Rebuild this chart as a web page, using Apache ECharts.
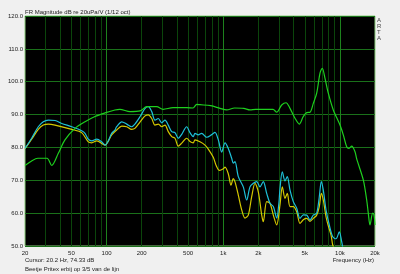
<!DOCTYPE html>
<html><head><meta charset="utf-8">
<script src="https://cdn.jsdelivr.net/npm/echarts@6/dist/echarts.min.js"></script>
<style>html,body{margin:0;padding:0;background:#f0f0f0}#c{width:400px;height:274px}</style>
</head><body><div id="c"></div>
<script>
// grid frequencies (vertical lines) and labelled ticks
const xMinorFreqs = [30,40,50,60,70,80,90,200,300,400,500,600,700,800,900,2000,3000,4000,5000,6000,7000,8000,9000];
const xDecadeFreqs = [100,1000,10000];
const xTickLabels = [20,50,100,200,500,1000,2000,5000,10000,20000];
const yTicks = [50,60,70,80,90,100,110,120];

// green curve
const greenFreq = [20,22.8,25.8,30.9,33.9,38.6,44,53.7,65.4,79.6,97,118,130,159,194,221,269,305,371,486,551,593,632,780,939,1071,1250,1500,1696,1900,2300,2672,2874,3172,3454,3737,4124,4488,4858,5196,5546,5918,6328,6756,7068,7456,7958,8782,10024,10700,11440,11968,12624,13476,13936,15872,16976,17520,18114,19110,19604,20000];
const greenDb   = [74.5,75.9,76.7,76.7,74.5,78.2,82.3,85.8,87.8,89.4,90.5,91.4,91.6,90.9,91.1,92.4,92.4,91.6,92.1,92.1,92.0,93.1,93.0,92.7,91.9,91.4,92.0,91.9,91.4,91.6,91.6,91.6,90.7,92.9,93.6,91.9,88.9,87.1,89.4,90.6,90.7,93.4,96.5,102.6,104.1,101.0,96.5,91.4,86.8,83.8,80.2,79.7,80.4,78.7,76.5,70.1,64.0,60.0,56.4,60.0,59.5,56.4];

// cyan curve
const cyanFreq = [20,22.8,26,28.7,31.7,36.2,41.3,50.3,61.2,65.4,69.8,74.6,82.4,90.9,97,103.5,110.7,118,122,135,149,164,175,194,214,228,244,260,278,297,317,338,362,386,412,441,486,519,554,573,611,654,722,797,850,908,971,1036,1105,1182,1220,1262,1347,1486,1589,1696,1811,1936,2066,2206,2359,2518,2688,2874,3000,3066,3210,3386,3542,3737,3988,4266,4550,4858,5196,5546,5918,6328,6662,6930,7210,7604,8116,8680,9264,9882,10364,10570];
const cyanDb   = [79.7,82.8,86.3,87.8,88.3,88.2,87.3,86.3,85.1,84.3,82.5,82.0,82.5,81.7,80.7,82.0,84.3,85.3,86.3,87.8,87.1,86.3,87.1,89.4,91.9,92.4,90.9,88.3,88.8,87.5,88.3,86.8,84.8,84.5,82.8,84.0,86.3,84.5,83.3,84.3,83.8,84.3,83.1,83.9,84.6,82.3,78.6,81.4,79.7,76.7,75.2,75.7,71.1,68.0,64.0,68.0,69.1,69.6,68.0,69.6,66.0,63.0,62.0,58.5,63.0,67.5,72.6,69.8,71.1,67.0,63.5,61.5,58.4,59.5,59.4,57.9,59.4,60.0,65.0,69.6,67.0,61.0,56.4,52.8,52.2,54.3,51.3,49.5];

// yellow curve
const yellowFreq = [20,22.8,26,28.7,31.7,36.2,50.3,61.2,69.8,74.6,82.4,97,110.7,122,135,149,164,175,194,214,228,244,260,278,297,317,338,362,386,412,441,486,519,554,573,632,698,745,822,870,930,1002,1036,1105,1166,1220,1262,1347,1440,1537,1640,1754,1872,1999,2138,2206,2359,2518,2688,2874,3066,3210,3386,3542,3737,3988,4266,4550,4858,5196,5546,5918,6328,6662,6930,7210,7604,7900,8400,8680,9000];
const yellowDb   = [79.6,82.5,85.5,86.8,87.1,86.8,85.5,84.5,81.7,81.4,82.0,80.7,83.8,85.3,86.5,86.3,85.5,85.8,87.8,89.6,89.9,88.8,86.8,87.1,86.3,86.8,84.8,83.3,82.8,80.4,81.3,82.8,81.8,81.4,82.3,81.7,80.7,79.5,77.0,74.5,73.0,73.5,74.0,72.0,68.5,70.5,69.5,65.5,61.0,58.5,59.4,65.0,69.1,66.5,59.4,57.4,63.5,63.0,59.4,56.4,62.5,68.0,64.5,66.0,62.0,62.0,60.4,56.9,58.0,58.4,57.5,58.4,59.4,62.0,66.0,64.0,58.9,56.5,53.3,50.3,49.0];

function pairs(f, d) { return f.map((v, i) => [v, d[i]]); }

const FONT = '"Liberation Sans", Arial, sans-serif';
const TXT = '#222';
const MINOR = '#0b450b', MAJOR = '#1d821d';

const vLines = xMinorFreqs.map(f => ({xAxis: f, lineStyle: {color: MINOR}}))
  .concat(xDecadeFreqs.map(f => ({xAxis: f, lineStyle: {color: MAJOR}})));

const chart = echarts.init(document.getElementById('c'), null, {renderer: 'canvas'});
chart.setOption({
  animation: false,
  backgroundColor: '#f0f0f0',
  grid: {left: 25, top: 16, right: 25, bottom: 28, show: true, backgroundColor: '#000000', borderColor: '#8ccc7c', borderWidth: 1},
  xAxis: {
    type: 'log', logBase: 10, min: 20, max: 20000,
    axisLine: {show: false},
    axisTick: {show: false},
    axisLabel: {customValues: xTickLabels, fontSize: 6, color: TXT, fontFamily: FONT, margin: 4,
      formatter: v => v >= 1000 ? (v / 1000) + 'k' : String(v)},
    splitLine: {show: false}
  },
  yAxis: {
    type: 'value', min: 50, max: 120, interval: 10,
    axisLine: {show: false}, axisTick: {show: false},
    axisLabel: {fontSize: 6, color: TXT, fontFamily: FONT, margin: 2, formatter: v => v.toFixed(1)},
    splitLine: {show: true, lineStyle: {color: '#1a701a', width: 1}}
  },
  series: [
    {type: 'line', data: pairs(yellowFreq, yellowDb), showSymbol: false, smooth: 0.3, lineStyle: {color: '#d4c800', width: 1.2},
     markLine: {z: 1, silent: true, symbol: 'none', animation: false, label: {show: false}, lineStyle: {type: 'solid', width: 1}, data: vLines}},
    {type: 'line', data: pairs(cyanFreq, cyanDb), showSymbol: false, smooth: 0.3, lineStyle: {color: '#1ec0d8', width: 1.2}},
    {type: 'line', data: pairs(greenFreq, greenDb), showSymbol: false, smooth: 0.3, lineStyle: {color: '#1ed01e', width: 1.2}}
  ],
  graphic: [
    {type: 'text', left: 25, top: 9, style: {text: 'FR Magnitude dB re 20uPa/V (1/12 oct)', font: '6px ' + FONT, fill: TXT}},
    {type: 'text', left: 377, top: 17, style: {text: 'A\nR\nT\nA', font: '6px ' + FONT, fill: '#444', lineHeight: 6}},
    {type: 'text', left: 25, top: 257, style: {text: 'Cursor: 20.2 Hz, 74.33 dB', font: '6px ' + FONT, fill: TXT}},
    {type: 'text', left: 25, top: 266, style: {text: 'Beetje Pritex erbij op 3/5 van de lijn', font: '6px ' + FONT, fill: TXT}},
    {type: 'text', right: 26, top: 257, style: {text: 'Frequency (Hz)', font: '6px ' + FONT, fill: TXT}}
  ]
});
</script>
</body></html>
